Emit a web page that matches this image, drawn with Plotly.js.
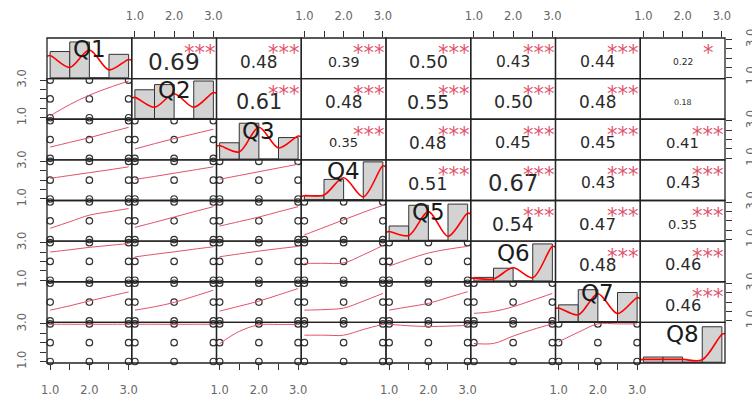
<!DOCTYPE html>
<html><head><meta charset="utf-8">
<script src="https://cdn.plot.ly/plotly-3.0.1.min.js"></script>
<style>html,body{margin:0;padding:0;background:#fff}#chart{width:752px;height:402px}</style>
</head><body><div id="chart"></div>
<script>
// ---- data ----
const varNames = ['Q1','Q2','Q3','Q4','Q5','Q6','Q7','Q8'];
const levels = [1, 2, 3];                 // observed response levels
const tickVals = [1, 1.5, 2, 2.5, 3];
const xTickText = ['1.0', '', '2.0', '', '3.0'];
const yTickText = ['1.0', '', '', '', '3.0'];
const axisRange = [0.92, 3.08];

// correlations (upper triangle), row Qi with Q(i+1)..Q8
const corrQ1 = [0.69, 0.48, 0.39, 0.50, 0.43, 0.44, 0.22];
const corrQ2 = [0.61, 0.48, 0.55, 0.50, 0.48, 0.18];
const corrQ3 = [0.35, 0.48, 0.45, 0.45, 0.41];
const corrQ4 = [0.51, 0.67, 0.43, 0.43];
const corrQ5 = [0.54, 0.47, 0.35];
const corrQ6 = [0.48, 0.46];
const corrQ7 = [0.46];
const starsQ1 = ['***','***','***','***','***','***','*'];
const starsQ2 = ['***','***','***','***','***',''];
const starsQ3 = ['***','***','***','***','***'];
const starsQ4 = ['***','***','***','***'];
const starsQ5 = ['***','***','***'];
const starsQ6 = ['***','***'];
const starsQ7 = ['***'];

// histograms (relative bar heights), bins (1,1.5],(1.5,2],(2,2.5],(2.5,3]
const histBins = [1.25, 1.75, 2.25, 2.75];
const histQ1 = [0.66, 0.90, 0, 0.59];
const histQ2 = [0.72, 0.85, 0, 0.94];
const histQ3 = [0.41, 0.90, 0, 0.54];
const histQ4 = [0.10, 0.51, 0, 0.95];
const histQ5 = [0.36, 0.88, 0, 0.91];
const histQ6 = [0.09, 0.32, 0, 0.93];
const histQ7 = [0.42, 0.80, 0, 0.73];
const histQ8 = [0.13, 0.13, 0, 0.89];

// density curves (relative height)
const densX  = [0.92, 1.0, 1.5, 2.0, 2.5, 3.0, 3.08];
const densQ1 = [0.54, 0.56, 0.26, 0.70, 0.20, 0.46, 0.44];
const densQ2 = [0.51, 0.53, 0.28, 0.62, 0.28, 0.65, 0.63];
const densQ3 = [0.33, 0.34, 0.18, 0.80, 0.28, 0.58, 0.56];
const densQ4 = [0.08, 0.10, 0.12, 0.55, 0.07, 0.85, 0.82];
const densQ5 = [0.20, 0.22, 0.12, 0.72, 0.10, 0.68, 0.66];
const densQ6 = [0.07, 0.07, 0.05, 0.33, 0.08, 0.87, 0.85];
const densQ7 = [0.33, 0.34, 0.17, 0.70, 0.20, 0.60, 0.58];
const densQ8 = [0.06, 0.07, 0.07, 0.07, 0.06, 0.70, 0.72];

// smoothed (loess) lines in lower panels, row Qi vs Q1..Q(i-1)
const smoothX = [1, 1.5, 2, 2.5, 3];
const smoothQ2 = [[1.10, 1.70, 2.20, 2.60, 2.95]];
const smoothQ3 = [[1.60, 1.85, 2.10, 2.38, 2.65], [1.50, 1.78, 2.05, 2.30, 2.55]];
const smoothQ4 = [[2.10, 2.25, 2.40, 2.55, 2.71], [2.04, 2.20, 2.37, 2.54, 2.71], [2.05, 2.25, 2.45, 2.65, 2.85]];
const smoothQ5 = [[1.60, 1.95, 2.30, 2.48, 2.65], [1.65, 1.92, 2.20, 2.48, 2.75], [1.72, 1.96, 2.20, 2.48, 2.75], [1.25, 1.65, 2.05, 2.45, 2.82]];
const smoothQ6 = [[2.50, 2.62, 2.75, 2.85, 2.95], [2.24, 2.38, 2.51, 2.65, 2.78], [2.25, 2.40, 2.55, 2.68, 2.80], [1.90, 1.90, 1.92, 2.35, 2.85], [1.75, 2.12, 2.45, 2.65, 2.80]];
const smoothQ7 = [[1.57, 1.80, 2.06, 2.30, 2.54], [1.57, 1.75, 1.98, 2.30, 2.63], [1.52, 1.78, 2.05, 2.38, 2.72], [1.57, 1.60, 1.68, 2.05, 2.46], [1.57, 1.75, 1.93, 2.24, 2.55], [1.40, 1.50, 1.75, 2.10, 2.46]];
const smoothQ8 = [[2.98, 2.98, 2.98, 2.98, 2.98], [2.98, 2.98, 2.98, 2.98, 2.98], [1.95, 2.60, 2.95, 2.97, 2.97], [2.40, 2.40, 2.40, 2.70, 2.98], [2.98, 2.90, 2.86, 2.88, 2.92], [1.96, 1.96, 2.35, 2.70, 3.00], [2.05, 2.55, 3.00, 3.00, 3.00]];

// ---- build ----
const N = varNames.length;
const corrRows = [corrQ1, corrQ2, corrQ3, corrQ4, corrQ5, corrQ6, corrQ7];
const starRows = [starsQ1, starsQ2, starsQ3, starsQ4, starsQ5, starsQ6, starsQ7];
const histRows = [histQ1, histQ2, histQ3, histQ4, histQ5, histQ6, histQ7, histQ8];
const densRows = [densQ1, densQ2, densQ3, densQ4, densQ5, densQ6, densQ7, densQ8];
const smoothRows = [[], smoothQ2, smoothQ3, smoothQ4, smoothQ5, smoothQ6, smoothQ7, smoothQ8];

const xName = c => c === 0 ? 'x' : 'x' + (c + 1);
const yName = r => r === 0 ? 'y' : 'y' + (r + 1);
const hName = r => 'y' + (N + 1 + r);
const xKey = c => c === 0 ? 'xaxis' : 'xaxis' + (c + 1);
const yKey = r => r === 0 ? 'yaxis' : 'yaxis' + (r + 1);
const mid = (axisRange[0] + axisRange[1]) / 2;

const FONT = 'DejaVu Sans, Arial, sans-serif';
const gx = [], gy = [];
levels.forEach(a => levels.forEach(b => { gx.push(a); gy.push(b); }));

const traces = [];
const annotations = [];
const shapes = [];

for (let r = 0; r < N; r++) {
  for (let c = 0; c < N; c++) {
    shapes.push({type: 'rect', xref: xName(c) + ' domain', yref: yName(r) + ' domain',
      x0: 0, x1: 1, y0: 0, y1: 1, line: {color: '#222', width: 1.3}, layer: 'above'});
    if (r > c) {
      traces.push({type: 'scatter', mode: 'markers', x: gx, y: gy,
        xaxis: xName(c), yaxis: yName(r), cliponaxis: false, hoverinfo: 'skip',
        marker: {symbol: 'circle-open', size: 6.5, color: '#333', line: {width: 1.2, color: '#333'}}});
      traces.push({type: 'scatter', mode: 'lines', x: smoothX, y: smoothRows[r][c],
        xaxis: xName(c), yaxis: yName(r), hoverinfo: 'skip',
        line: {color: '#DF536B', width: 1, shape: 'spline'}});
    } else if (r === c) {
      traces.push({type: 'scatter', mode: 'markers', x: [mid], y: [mid],
        xaxis: xName(c), yaxis: yName(r), hoverinfo: 'skip', marker: {opacity: 0}});
      traces.push({type: 'bar', x: histBins, y: histRows[r], width: 0.5,
        xaxis: xName(c), yaxis: hName(r), hoverinfo: 'skip',
        marker: {color: '#d3d3d3', line: {color: '#333', width: 1}}});
      traces.push({type: 'scatter', mode: 'lines', x: densX, y: densRows[r],
        xaxis: xName(c), yaxis: hName(r), hoverinfo: 'skip',
        line: {color: '#ff0000', width: 1.6, shape: 'spline', smoothing: 0.9}});
      annotations.push({text: varNames[r], xref: xName(c) + ' domain', yref: yName(r) + ' domain',
        x: 0.5, y: 0.72, xanchor: 'center', yanchor: 'middle', showarrow: false,
        font: {family: FONT, size: 23, color: '#1a1a1a'}});
    } else {
      traces.push({type: 'scatter', mode: 'markers', x: [mid], y: [mid],
        xaxis: xName(c), yaxis: yName(r), hoverinfo: 'skip', marker: {opacity: 0}});
      const v = corrRows[r][c - r - 1];
      const s = starRows[r][c - r - 1];
      annotations.push({text: v.toFixed(2), xref: xName(c) + ' domain', yref: yName(r) + ' domain',
        x: 0.5, y: 0.42, xanchor: 'center', yanchor: 'middle', showarrow: false,
        font: {family: FONT, size: 2.5 + 30 * Math.abs(v), color: '#2a2a2a'}});
      if (s) annotations.push({text: s, xref: xName(c) + ' domain', yref: yName(r) + ' domain',
        x: 0.8, y: 0.62, xanchor: 'center', yanchor: 'middle', showarrow: false,
        font: {family: FONT, size: 21, color: '#DF536B'}});
    }
  }
}

const layout = {
  width: 752, height: 402,
  margin: {l: 47, r: 27, t: 38, b: 39},
  paper_bgcolor: '#ffffff', plot_bgcolor: '#ffffff',
  showlegend: false,
  font: {family: FONT, color: '#333'},
  annotations: annotations, shapes: shapes
};
const axCommon = {
  range: axisRange, tickmode: 'array', tickvals: tickVals,
  ticks: 'outside', ticklen: 6, tickwidth: 1, tickcolor: '#333',
  showgrid: false, zeroline: false, showline: false, fixedrange: true,
  tickfont: {family: FONT, size: 11.5, color: '#666'}
};
for (let c = 0; c < N; c++) {
  const even = c % 2 === 0;
  layout[xKey(c)] = Object.assign({}, axCommon, {
    domain: [c / N, (c + 1) / N], ticktext: xTickText,
    ticklabelstandoff: even ? 10 : 6,
    anchor: even ? yName(N - 1) : yName(0), side: even ? 'bottom' : 'top'});
}
for (let r = 0; r < N; r++) {
  const odd = r % 2 === 1;
  layout[yKey(r)] = Object.assign({}, axCommon, {
    domain: [1 - (r + 1) / N, 1 - r / N], tickangle: -90, ticktext: yTickText,
    ticklabelstandoff: 9,
    anchor: odd ? xName(0) : xName(N - 1), side: odd ? 'left' : 'right'});
  layout['yaxis' + (N + 1 + r)] = {
    domain: [1 - (r + 1) / N, 1 - r / N], range: [-0.02, 1],
    anchor: xName(r), visible: false, fixedrange: true};
}

Plotly.newPlot('chart', traces, layout, {staticPlot: true, displayModeBar: false});
</script>
</body></html>
